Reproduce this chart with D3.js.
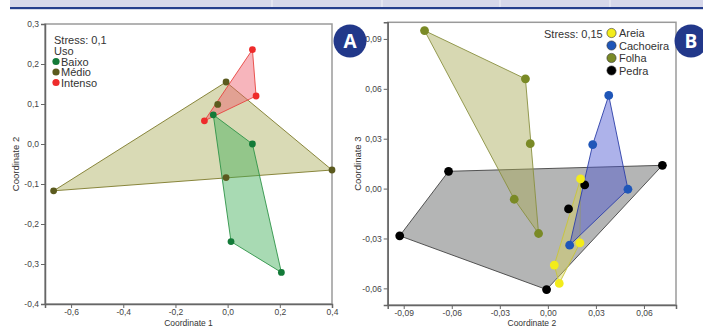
<!DOCTYPE html>
<html><head><meta charset="utf-8">
<script src="https://cdn.jsdelivr.net/npm/d3@7"></script>
<style>body{margin:0;background:#fff}svg{display:block;font-family:"Liberation Sans",Arial,sans-serif}</style>
</head><body><svg id="c" width="703" height="327"></svg>
<script>
// ---- Panel A data (Coordinate 1, Coordinate 2) ----
const groupsA = ["Baixo", "Médio", "Intenso"];
const baixoX = [0.095, 0.206, 0.013, -0.055];
const baixoY = [0.000, -0.321, -0.244, 0.073];
const medioX = [-0.667, 0.400, -0.006, -0.006, -0.038];
const medioY = [-0.117, -0.065, -0.084, 0.155, 0.099];
const intensoX = [0.095, 0.109, -0.089];
const intensoY = [0.236, 0.120, 0.058];
const ticksAx = [-0.6, -0.4, -0.2, 0.0, 0.2, 0.4];
const ticksAy = [-0.4, -0.3, -0.2, -0.1, 0.0, 0.1, 0.2, 0.3];
const stressA = "Stress: 0,1";

// ---- Panel B data (Coordinate 2, Coordinate 3) ----
const groupsB = ["Areia", "Cachoeira", "Folha", "Pedra"];
const areiaX = [0.0204, 0.020, 0.004, 0.0071];
const areiaY = [0.0058, -0.0327, -0.046, -0.057];
const cachoeiraX = [0.038, 0.028, 0.050, 0.0136];
const cachoeiraY = [0.056, 0.0265, -0.0004, -0.034];
const folhaX = [-0.077, -0.014, -0.011, -0.021, -0.0058];
const folhaY = [0.095, 0.066, 0.027, -0.0064, -0.027];
const pedraX = [0.0715, -0.062, -0.0925, -0.0008, 0.023, 0.0129];
const pedraY = [0.014, 0.0104, -0.0284, -0.0607, 0.0022, -0.0122];
const ticksBx = [-0.09, -0.06, -0.03, 0.00, 0.03, 0.06];
const ticksBy = [-0.06, -0.03, 0.00, 0.03, 0.06, 0.09];
const stressB = "Stress: 0,15";

const svg = d3.select("#c");

// header band
svg.append("rect").attr("x",10).attr("y",0).attr("width",693).attr("height",7).attr("fill","#d6d7ea");
[272,382,500,610].forEach(x=>svg.append("line").attr("x1",x).attr("x2",x).attr("y1",0).attr("y2",7).attr("stroke","#f2f2f8").attr("stroke-width",1));
svg.append("rect").attr("x",10).attr("y",7).attr("width",693).attr("height",2.2).attr("fill","#243d8c");

function zip(xs, ys){ return xs.map((x,i)=>[x, ys[i]]); }

function panel(opt){
  const x = d3.scaleLinear().domain(opt.xd).range(opt.xr);
  const y = d3.scaleLinear().domain(opt.yd).range(opt.yr);
  const g = svg.append("g");
  g.append("rect").attr("x",opt.xr[0]).attr("y",opt.yr[1]).attr("width",opt.xr[1]-opt.xr[0]).attr("height",opt.yr[0]-opt.yr[1])
    .attr("fill","#fff").attr("stroke","#9a9a9a").attr("stroke-width",1.5);
  const line = d3.line().x(d=>x(d[0])).y(d=>y(d[1]));
  opt.groups.forEach(gr=>{
    const hull = d3.polygonHull(zip(gr.xs, gr.ys));
    g.append("path").attr("d", line(hull)+"Z").attr("fill",gr.fill).attr("fill-opacity",gr.fo)
      .attr("stroke",gr.stroke).attr("stroke-width",1).attr("stroke-opacity",0.9);
  });
  opt.groups.forEach(gr=>{
    zip(gr.xs, gr.ys).forEach(p=>{
      g.append("circle").attr("cx",x(p[0])).attr("cy",y(p[1])).attr("r",opt.r).attr("fill",gr.color);
    });
  });
  const fmt = opt.fmt;
  const ax = d3.axisBottom(x).tickValues(opt.tx).tickSize(4).tickPadding(1).tickFormat(d=>fmt(d));
  const ay = d3.axisLeft(y).tickValues(opt.ty).tickSize(4).tickPadding(2).tickFormat(d=>fmt(d));
  const gx = g.append("g").attr("transform",`translate(0,${opt.yr[0]})`).call(ax);
  const gy = g.append("g").attr("transform",`translate(${opt.xr[0]},0)`).call(ay);
  [gx,gy].forEach(a=>{
    a.select(".domain").attr("stroke","#666").attr("stroke-width",1.5);
    a.selectAll(".tick line").attr("stroke","#666");
    a.selectAll("text").attr("fill","#444").attr("font-size",8.5).attr("font-family","Liberation Sans, Arial, sans-serif");
  });
  g.append("text").attr("x",(opt.xr[0]+opt.xr[1])/2).attr("y",325.5).attr("text-anchor","middle")
    .attr("font-size",8.5).attr("fill","#333").text(opt.xl);
  g.append("text").attr("transform",`translate(${opt.ylx},${(opt.yr[0]+opt.yr[1])/2}) rotate(-90)`).attr("text-anchor","middle")
    .attr("font-size",9.5).attr("fill","#333").text(opt.yl);
  return {x,y,g};
}

const fmtA = d => d3.format(".1f")(d).replace(".",",").replace("−","-");
const fmtB = d => d3.format(".2f")(d).replace(".",",").replace("−","-");

panel({
  xd:[-0.7,0.4], xr:[45,332], yd:[-0.4,0.3], yr:[304,24],
  tx:ticksAx, ty:ticksAy, fmt:fmtA, r:3.4, xl:"Coordinate 1", yl:"Coordinate 2", ylx:19,
  groups:[
    {name:groupsA[1], xs:medioX, ys:medioY, color:"#5b5a1e", fill:"#aaac5c", fo:0.45, stroke:"#7d7a2a"},
    {name:groupsA[0], xs:baixoX, ys:baixoY, color:"#137a38", fill:"#3fae57", fo:0.45, stroke:"#2f9448"},
    {name:groupsA[2], xs:intensoX, ys:intensoY, color:"#ee2b2b", fill:"#ee5a6a", fo:0.45, stroke:"#e8443f"}
  ]
});

panel({
  xd:[-0.10,0.08], xr:[387.7,676], yd:[-0.07,0.10], yr:[305,22.3],
  tx:ticksBx, ty:ticksBy, fmt:fmtB, r:4.4, xl:"Coordinate 2", yl:"Coordinate 3", ylx:361,
  groups:[
    {name:groupsB[3], xs:pedraX, ys:pedraY, color:"#000", fill:"#767979", fo:0.55, stroke:"#444"},
    {name:groupsB[2], xs:folhaX, ys:folhaY, color:"#7a8a26", fill:"#a6a855", fo:0.45, stroke:"#8a9040"},
    {name:groupsB[0], xs:areiaX, ys:areiaY, color:"#f3ec1b", fill:"#d8d25a", fo:0.45, stroke:"#c9c53a"},
    {name:groupsB[1], xs:cachoeiraX, ys:cachoeiraY, color:"#1f56b8", fill:"#4a55d0", fo:0.45, stroke:"#2c3fa8"}
  ]
});

const lg = svg.append("g").attr("font-size",11).attr("fill","#333");
lg.append("text").attr("x",54).attr("y",44).text(stressA);
lg.append("text").attr("x",54).attr("y",55).text("Uso");
const colA = ["#137a38","#5b5a1e","#ee2b2b"];
groupsA.forEach((n,i)=>{
  lg.append("circle").attr("cx",56).attr("cy",61.5+i*10.5).attr("r",3.6).attr("fill",colA[i]);
  lg.append("text").attr("x",61).attr("y",65.5+i*10.5).text(n);
});
lg.append("text").attr("x",544).attr("y",38).text(stressB);
const colB = ["#f3ec1b","#1f56b8","#7a8a26","#000"];
groupsB.forEach((n,i)=>{
  lg.append("circle").attr("cx",611.5).attr("cy",33+i*12.5).attr("r",4.6).attr("fill",colB[i]).attr("stroke","#333").attr("stroke-width",0.6);
  lg.append("text").attr("x",619).attr("y",37+i*12.5).text(n);
});

[["A",350,41],["B",691,41]].forEach(([t,cx,cy])=>{
  svg.append("circle").attr("cx",cx).attr("cy",cy).attr("r",16.5).attr("fill","#22388a");
  svg.append("text").attr("x",cx).attr("y",cy+6.5).attr("text-anchor","middle").attr("fill","#fff")
    .attr("font-size",19).attr("font-weight","bold").attr("font-family","Open Sans, Liberation Sans, sans-serif").text(t);
});
</script></body></html>
